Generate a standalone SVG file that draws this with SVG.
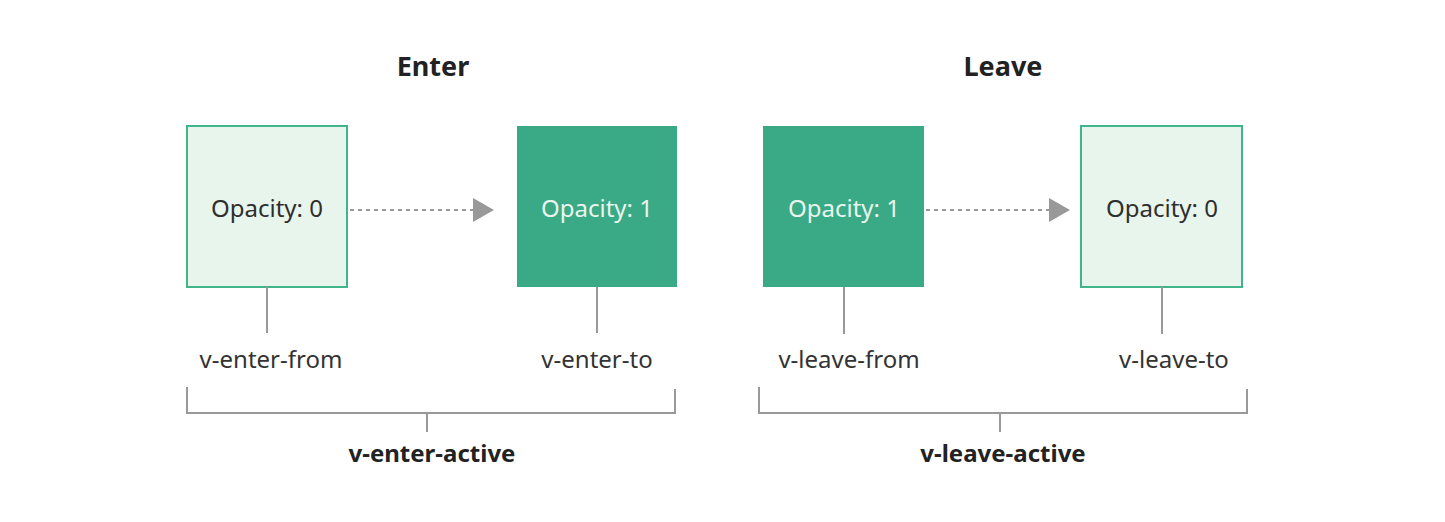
<svg xmlns="http://www.w3.org/2000/svg" width="1445" height="522" viewBox="0 0 1445 522">
<style>
text{font-family:"Noto Sans","Open Sans",sans-serif;text-anchor:middle}
.title{font-size:27px;font-weight:bold;fill:#222}
.val{font-size:24px}
.dark{fill:#2e2e2e}
.light{fill:#e9f6ee}
.lbl{font-size:24px;fill:#333}
.act{font-size:24px;font-weight:bold;fill:#222}
.boxL{fill:#e8f5ec;stroke:#42b48c;stroke-width:2}
.boxD{fill:#3aa985}
.ln{stroke:#999;stroke-width:2;fill:none}
.dash{stroke:#999;stroke-width:2;stroke-dasharray:4 4;fill:none}
</style>
<defs>
<marker id="arr" markerWidth="22" markerHeight="24" refX="21" refY="12" markerUnits="userSpaceOnUse" orient="auto">
<path d="M0,0 L21,12 L0,24 Z" fill="#999"/>
</marker>
</defs>
<rect width="1445" height="522" fill="#fff"/>
<text class="title" x="433" y="76">Enter</text>
<text class="title" x="1003" y="76">Leave</text>
<g id="enter-from-box">
<rect class="boxL" x="187" y="126" width="160" height="161"/>
<text class="val dark" x="267" y="217">Opacity: 0</text>
</g>
<g id="enter-to-box">
<rect class="boxD" x="517" y="126" width="160" height="161"/>
<text class="val light" x="597" y="217">Opacity: 1</text>
</g>
<g id="leave-from-box">
<rect class="boxD" x="763" y="126" width="161" height="161"/>
<text class="val light" x="844" y="217">Opacity: 1</text>
</g>
<g id="leave-to-box">
<rect class="boxL" x="1081" y="126" width="161" height="161"/>
<text class="val dark" x="1162" y="217">Opacity: 0</text>
</g>
<g id="labels">
<text class="lbl" x="271" y="368">v-enter-from</text>
<text class="lbl" x="597" y="368">v-enter-to</text>
<text class="lbl" x="849" y="368">v-leave-from</text>
<text class="lbl" x="1174" y="368">v-leave-to</text>
<text class="act" x="432" y="462">v-enter-active</text>
<text class="act" x="1003" y="462">v-leave-active</text>
</g>
<g id="connectors">
<line class="dash" x1="350" y1="210" x2="494" y2="210" marker-end="url(#arr)"/>
<line class="dash" x1="926" y1="210" x2="1070" y2="210" marker-end="url(#arr)"/>
<line class="ln" x1="267" y1="287" x2="267" y2="333"/>
<line class="ln" x1="597" y1="287" x2="597" y2="333"/>
<line class="ln" x1="844" y1="287" x2="844" y2="334"/>
<line class="ln" x1="1162" y1="287" x2="1162" y2="334"/>
<path class="ln" d="M187,387 V413 H675 V389"/>
<line class="ln" x1="427" y1="413" x2="427" y2="432"/>
<path class="ln" d="M759,387 V413 H1247 V389"/>
<line class="ln" x1="1000" y1="413" x2="1000" y2="432"/>
</g>
</svg>
